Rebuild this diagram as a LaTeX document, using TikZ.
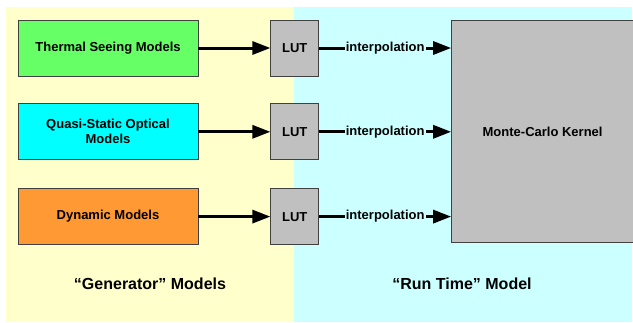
\documentclass[tikz,border=0pt]{standalone}
\usepackage{fontspec}
\setmainfont{Liberation Sans}
\usetikzlibrary{arrows.meta,positioning}

\definecolor{genbg}{RGB}{255,255,204}
\definecolor{runbg}{RGB}{204,255,255}
\definecolor{thermalgreen}{RGB}{102,255,102}
\definecolor{quasicyan}{RGB}{0,255,255}
\definecolor{dynorange}{RGB}{255,153,51}
\definecolor{lutgray}{RGB}{192,192,192}
\definecolor{edgegray}{RGB}{64,64,64}

\begin{document}
\begin{tikzpicture}

  % --- styles ---
  \tikzset{
    % model boxes on the left
    modelbox/.style={
      draw=edgegray,
      line width=0.8pt,
      text=black,
      font=\bfseries\fontsize{13}{15}\selectfont,
      align=center,
      minimum width=180pt,
      minimum height=56pt,
      inner sep=2pt
    },
    % look-up tables
    lutbox/.style={
      modelbox,
      fill=lutgray,
      minimum width=48pt
    },
    % thick arrows
    conn/.style={
      line width=3pt,
      -{Triangle[length=18pt,width=13pt]}
    },
    % labels of the two zones
    zonelabel/.style={
      font=\bfseries\fontsize{16}{19}\selectfont
    }
  }

  \useasboundingbox (0,0) rectangle (633pt,-322pt);

  % --- background zones ---
  \fill[genbg] (6pt,-7pt) rectangle (294pt,-322pt);
  \fill[runbg] (294pt,-7pt) rectangle (632pt,-322pt);

  % --- generator models ---
  \node[modelbox, fill=thermalgreen] (thermal) at (108pt,-48pt) {Thermal Seeing Models};
  \node[modelbox, fill=quasicyan, below=27pt of thermal] (quasi) {Quasi-Static Optical\\Models};
  \node[modelbox, fill=dynorange, below=28pt of quasi] (dynamic) {Dynamic Models};

  % --- look-up tables ---
  \node[lutbox, right=72pt of thermal] (lutA) {LUT};
  \node[lutbox, right=72pt of quasi] (lutB) {LUT};
  \node[lutbox, right=72pt of dynamic] (lutC) {LUT};

  % --- kernel ---
  \node[modelbox, fill=lutgray, minimum width=182pt, minimum height=222pt,
        right=132pt of lutB] (kernel) {Monte-Carlo Kernel};

  % --- connectors ---
  \draw[conn] (thermal) -- (lutA);
  \draw[conn] (quasi) -- (lutB);
  \draw[conn] (dynamic) -- (lutC);

  \foreach \lut in {lutA,lutB,lutC}
    \draw[conn] (\lut) -- node[fill=runbg, inner sep=1pt,
      font=\bfseries\fontsize{13}{15}\selectfont] {interpolation} (kernel.west |- \lut);

  % --- zone labels ---
  \node[zonelabel] (genlabel) at (150pt,-284pt) {“Generator” Models};
  \node[zonelabel] (runlabel) at (462pt,-284pt) {“Run Time” Model};

\end{tikzpicture}
\end{document}
